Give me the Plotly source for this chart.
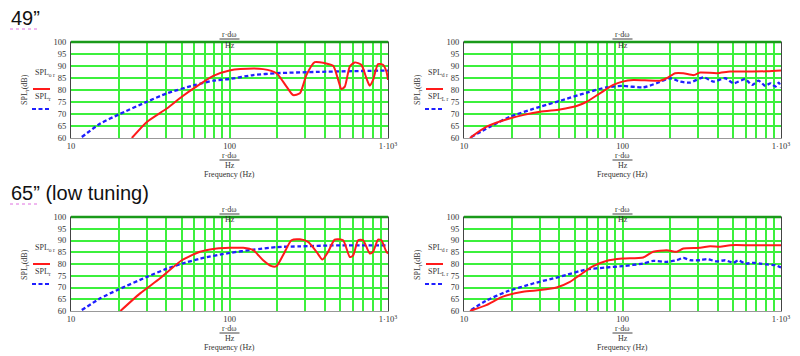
import plotly.graph_objects as go

# ---------------- data ----------------
# 49" left panel
f49_or = [24.2, 30.1, 40.2, 50, 60.7, 79, 100, 117, 163, 198, 229, 252, 278, 306, 345, 399, 451, 485, 508, 534, 574, 617, 679, 731, 767, 805, 865, 930, 977, 1000]
spl49_or = [60, 66.7, 72.3, 77.2, 81.1, 85.9, 88.1, 88.7, 88.7, 87, 81.4, 77.9, 78.6, 86.3, 91.6, 91.2, 90.1, 84.2, 80.4, 81.4, 89.8, 91.5, 90.5, 84.9, 81.8, 84.2, 90.8, 90.5, 87.7, 84.2]
f49_r = [11.7, 15.3, 20, 30.1, 40.2, 60.7, 79, 100, 141, 198, 451, 1000]
spl49_r = [60.4, 66, 69.8, 75.1, 78.6, 82.1, 83.9, 84.6, 86.2, 87, 87.7, 88.1]

# 49" right panel
f49_dr = [10.9, 13.8, 19.4, 30.1, 40.3, 51.3, 59.4, 72, 87.4, 100, 117, 172, 190, 215, 242, 281, 309, 394, 478, 610, 817, 1000]
spl49_dr = [60, 64.6, 68.1, 70.9, 71.9, 73.3, 75.1, 78.6, 82.1, 83.5, 84.2, 83.9, 84.9, 87, 87, 86.2, 87.3, 87, 87.7, 87.7, 87.8, 88.1]
f49_Lr = [11.1, 14.5, 19.4, 30.1, 40.3, 59.4, 79, 100, 135, 164, 200, 231, 267, 324, 375, 445, 502, 595, 656, 722, 796, 857, 921, 967, 1000]
spl49_Lr = [60.4, 64.6, 68.8, 73, 75.5, 78.9, 81.1, 81.7, 81.1, 82.8, 84.9, 83.5, 83.1, 85.3, 83.5, 84.9, 82.8, 84.5, 82.1, 83.9, 81.7, 82.8, 81.4, 83.1, 81.1]

# 65" (low tuning) left panel
f65_or = [20.5, 27.3, 36.5, 50, 65.2, 83, 100, 122, 141, 163, 184, 198, 218, 246, 278, 313, 354, 386, 419, 461, 521, 574, 603, 648, 697, 767, 805, 865, 908, 977, 1000]
spl65_or = [60, 67.5, 73.9, 81.6, 85.2, 86.6, 86.9, 86.9, 85.9, 81.6, 79.1, 79.1, 83.8, 90.1, 90.5, 89.4, 85.2, 81.9, 85.2, 90.4, 90.1, 83, 83.7, 90.1, 90.1, 84.5, 85.2, 90.4, 90.1, 85.2, 84.5]
f65_r = [11.7, 15.3, 20, 30.1, 40.2, 50, 65.2, 100, 141, 198, 278, 451, 1000]
spl65_r = [60.4, 65.4, 69.2, 74.5, 78, 80.1, 82.3, 84.7, 86.1, 87.2, 87.5, 87.9, 87.9]

# 65" right panel
f65_dr = [10.9, 13.8, 17.6, 23.6, 30.1, 38.4, 46.6, 53.8, 65.3, 79, 100, 135, 156, 190, 220, 242, 309, 357, 413, 478, 640, 1000]
spl65_dr = [60, 62.5, 66.1, 68.2, 68.9, 70, 72.4, 75.3, 79.1, 81.3, 82.3, 82.8, 85.2, 85.9, 85.2, 86.6, 86.9, 87.6, 87.3, 88, 88, 88]
f65_Lr = [11.1, 13.8, 18.5, 27.3, 40.3, 59.4, 79, 100, 135, 156, 190, 220, 242, 267, 309, 340, 394, 445, 502, 538, 595, 670, 739, 815, 921, 1000]
spl65_Lr = [60.4, 64.4, 68.2, 71.7, 74.6, 77.7, 78.5, 79.1, 80.2, 81.3, 80.9, 81.6, 82.6, 81.6, 81.6, 82.1, 81.1, 81.6, 80.5, 81.6, 80.2, 80.5, 80.2, 79.8, 79.5, 78.5]

y_ticks = [60, 65, 70, 75, 80, 85, 90, 95, 100]
x_grid = [10, 20, 30, 40, 50, 60, 70, 80, 90, 100, 200, 300, 400, 500, 600, 700, 800, 900, 1000]
x_labels = {10: "10", 100: "100", 1000: "1·10<sup>3</sup>"}

titles = ['49”', '65” (low tuning)']
legend_labels = [("SPL<sub>o r</sub>", "SPL<sub>r</sub>"), ("SPL<sub>d r</sub>", "SPL<sub>L r</sub>")]

# ---------------- layout geometry (pixels) ----------------
W, H = 800, 356
px_cols = [(71, 388), (464, 781)]
px_rows = [(42, 138), (217, 311)]

def fx(p):
    return p / W

def fy(p):
    return 1 - p / H

panels = [
    (0, 0, f49_or, spl49_or, f49_r, spl49_r),
    (0, 1, f49_dr, spl49_dr, f49_Lr, spl49_Lr),
    (1, 0, f65_or, spl65_or, f65_r, spl65_r),
    (1, 1, f65_dr, spl65_dr, f65_Lr, spl65_Lr),
]

fig = go.Figure()
shapes = []
annotations = []
serif = "Liberation Serif"
tick_font = dict(family=serif, size=8.5, color="#333333")
small = dict(family=serif, size=8, color="#333333")
grid_col = "#3cf03c"


def ann(x, y, text, font=small, **kw):
    d = dict(x=x, y=y, xref="paper", yref="paper", text=text, showarrow=False,
             font=font, xanchor=kw.pop("xanchor", "center"), yanchor="middle")
    d.update(kw)
    annotations.append(d)


for i, (r, c, fr, sr, fb, sb) in enumerate(panels):
    n = i + 1
    xa = "x" if n == 1 else f"x{n}"
    ya = "y" if n == 1 else f"y{n}"
    xl, xr = px_cols[c]
    yt, yb = px_rows[r]
    fig.add_trace(go.Scatter(x=fb, y=sb, xaxis=xa, yaxis=ya, mode="lines",
                             line=dict(color="#1f1fff", width=2.3, dash="4px,2.5px", shape="spline", smoothing=0.6),
                             showlegend=False, hoverinfo="skip"))
    fig.add_trace(go.Scatter(x=fr, y=sr, xaxis=xa, yaxis=ya, mode="lines",
                             line=dict(color="#ff1a1a", width=2, shape="spline", smoothing=0.6),
                             showlegend=False, hoverinfo="skip"))
    xkey = "xaxis" if n == 1 else f"xaxis{n}"
    ykey = "yaxis" if n == 1 else f"yaxis{n}"
    fig.layout[xkey] = dict(
        type="log", range=[1, 3], domain=[fx(xl), fx(xr)], anchor=ya,
        tickvals=x_grid, ticktext=[x_labels.get(v, "") for v in x_grid],
        showgrid=True, gridcolor=grid_col, gridwidth=1.5,
        showline=True, linecolor="#999999", linewidth=1, mirror=True,
        ticks="", tickfont=tick_font, zeroline=False, ticklabelstandoff=0,
        automargin=False,
    )
    fig.layout[ykey] = dict(
        range=[60, 100], domain=[fy(yb), fy(yt)], anchor=xa,
        tickvals=y_ticks, ticktext=[str(v) for v in y_ticks],
        showgrid=True, gridcolor=grid_col, gridwidth=1.5,
        showline=True, linecolor="#444444", linewidth=1, mirror=True,
        ticks="", tickfont=tick_font, zeroline=False, ticklabelstandoff=2,
        automargin=False,
    )
    # green top border
    shapes.append(dict(type="line", xref=f"{xa} domain", yref=f"{ya} domain", x0=0, x1=1, y0=1, y1=1,
                       line=dict(color="#1a9a1a", width=2.5), layer="above"))
    # black marker line at 100 Hz
    shapes.append(dict(type="line", xref=xa, yref=f"{ya} domain", x0=2, x1=2, y0=0, y1=1,
                       line=dict(color="#222222", width=1.3), layer="above"))
    xm = fx(xl + (xr - xl) / 2)
    # top fraction label
    ann(xm, fy(yt - 8), "r·dω")
    shapes.append(dict(type="line", xref="paper", yref="paper", x0=xm - 10 / W, x1=xm + 10 / W,
                       y0=fy(yt - 3), y1=fy(yt - 3), line=dict(color="#444", width=1)))
    ann(xm, fy(yt + 3), "Hz")
    # bottom fraction label + axis title
    ann(xm, fy(yb + 17), "r·dω")
    shapes.append(dict(type="line", xref="paper", yref="paper", x0=xm - 10 / W, x1=xm + 10 / W,
                       y0=fy(yb + 22), y1=fy(yb + 22), line=dict(color="#444", width=1)))
    ann(xm, fy(yb + 27), "Hz")
    ann(xm, fy(yb + 36), "Frequency (Hz)")
    # y title
    ann(fx(xl - 46), fy(yt + 48), "SPL<sub>r</sub>(dB)", textangle=-90)
    # legend
    l1, l2 = legend_labels[c]
    ann(fx(xl - 38), fy(yt + 31), l1, xanchor="left")
    shapes.append(dict(type="line", xref="paper", yref="paper", x0=fx(xl - 38), x1=fx(xl - 21),
                       y0=fy(yt + 47), y1=fy(yt + 47), line=dict(color="#ff1a1a", width=2)))
    ann(fx(xl - 38), fy(yt + 55), l2, xanchor="left")
    shapes.append(dict(type="line", xref="paper", yref="paper", x0=fx(xl - 39), x1=fx(xl - 21),
                       y0=fy(yt + 67), y1=fy(yt + 67), line=dict(color="#1f1fff", width=2, dash="4px,2.5px")))

# section titles
for t, yc in zip(titles, [18, 193]):
    ann(fx(9), fy(yc), t, font=dict(family="Liberation Sans", size=20, color="#111111"), xanchor="left")
    shapes.append(dict(type="line", xref="paper", yref="paper", x0=fx(10), x1=fx(40),
                       y0=fy(yc + 11), y1=fy(yc + 11), line=dict(color="#e070e0", width=1, dash="dot")))

fig.update_layout(
    width=W, height=H, margin=dict(l=0, r=0, t=0, b=0, autoexpand=False),
    paper_bgcolor="white", plot_bgcolor="white",
    shapes=shapes, annotations=annotations,
)

fig.write_html("out.html", config={"displayModeBar": False},
               post_script="document.body.style.margin='0';document.body.style.padding='0';")
